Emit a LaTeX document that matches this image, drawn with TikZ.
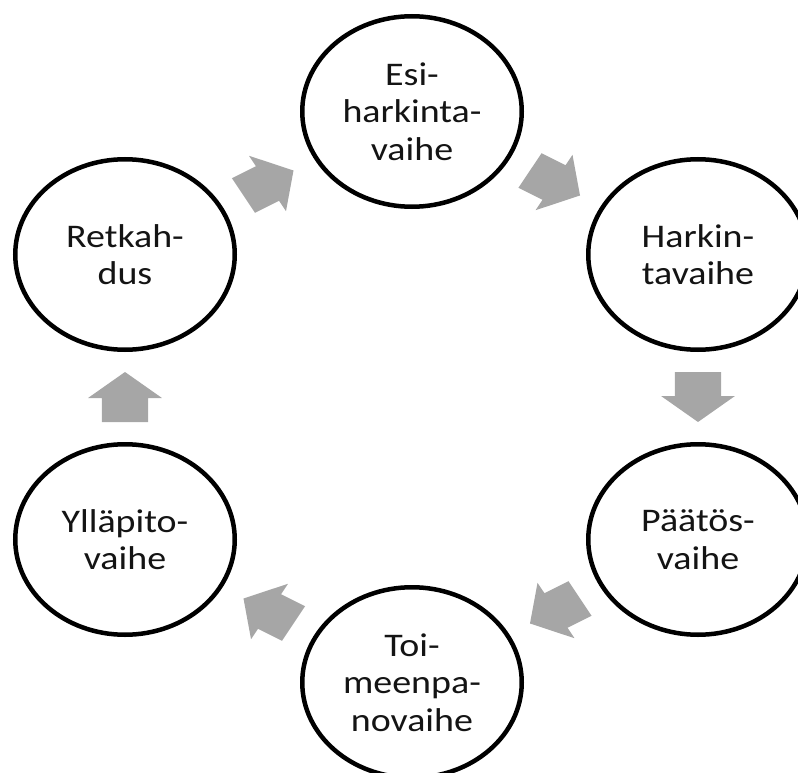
\documentclass[tikz,border=0pt]{standalone}
\usepackage{fontspec}
\setmainfont{Carlito}
\newfontfamily\handfont[FakeStretch=1.15]{Carlito}
\usetikzlibrary{shapes.geometric,calc}
\definecolor{arrowgray}{RGB}{166,166,166}
\definecolor{inkblack}{RGB}{20,20,20}
\newcommand{\cyclearrow}[3]{%
  \begin{scope}[shift={($(#1)!0.5!(#2)$)}, xscale=1.155, rotate=#3]
    \fill[arrowgray] (-25,-20) -- (-1,-20) -- (-1,-32) -- (25,0) -- (-1,32) -- (-1,20) -- (-25,20) -- cycle;
  \end{scope}}
\begin{document}
\begin{tikzpicture}[x=1pt,y=-1pt,
  phase/.style={ellipse, draw=black, line width=4.5pt, fill=white,
    minimum width=219.5pt, minimum height=190.5pt, inner sep=0pt,
    align=center, text=inkblack,
    font=\handfont\fontsize{33}{37.5}\selectfont}]
\useasboundingbox (0,0) rectangle (798,773);
\clip (0,0) rectangle (798,773);
\node[phase] (esi) at (412,111.5) {Esi-\\harkinta-\\vaihe};
\node[phase] (hark) at (698,254.5) {Harkin-\\tavaihe};
\node[phase] (paat) at (698,539.5) {Päätös-\\vaihe};
\node[phase] (toim) at (412,682.5) {Toi-\\meenpa-\\novaihe};
\node[phase] (yll) at (125,539.5) {Ylläpito-\\vaihe};
\node[phase] (ret) at (125,254.5) {Retkah-\\dus};
\cyclearrow{ret}{esi}{30}
\cyclearrow{esi}{hark}{-30}
\cyclearrow{hark}{paat}{-90}
\cyclearrow{paat}{toim}{210}
\cyclearrow{toim}{yll}{150}
\cyclearrow{yll}{ret}{90}
\end{tikzpicture}
\end{document}
